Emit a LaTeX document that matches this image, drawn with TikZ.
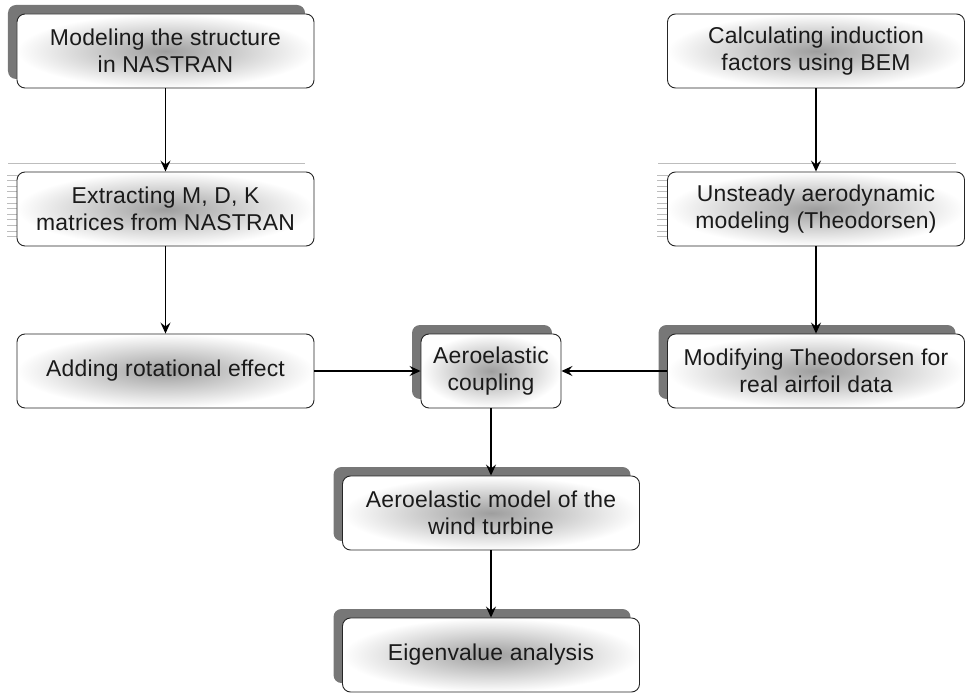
\documentclass[tikz,border=0pt]{standalone}
\usepackage{fontspec}
\setmainfont{Liberation Sans}[LetterSpace=1]
\usetikzlibrary{arrows.meta,shadows}
\definecolor{shadowgray}{HTML}{777777}
\definecolor{stripegray}{HTML}{BDBDBD}
\definecolor{txt}{HTML}{1A1A1A}
\begin{document}
\begin{tikzpicture}[x=1bp,y=-1bp,
  box/.style={draw=black!85, line width=0.9bp, rounded corners=8bp,
    minimum width=297bp, minimum height=74bp, inner sep=0pt,
    inner color=black!38, outer color=white, align=center,
    font=\fontsize{23}{27}\selectfont, text=txt},
  solidshadow/.style={general shadow={fill=shadowgray, draw=none,
    shadow xshift=-9bp, shadow yshift=9bp}},
  stripe/.style={draw=stripegray, line width=0.8bp},
  arr/.style={draw=black, line width=1.4bp,
    -{Stealth[length=11bp,width=10bp,inset=4bp]}}]
\useasboundingbox (0,0) rectangle (966,694);

% striped shadows
\draw[stripe] (8,163) -- (305,163);
\foreach \k in {0,...,11} {\draw[stripe] (7,175+5.6*\k) -- (18,175+5.6*\k);}
\draw[stripe] (658,163) -- (956,163);
\foreach \k in {0,...,11} {\draw[stripe] (657,175+5.6*\k) -- (668,175+5.6*\k);}

% nodes
\node[box, solidshadow] (b1) at (165.5,51) {Modeling the structure\\in NASTRAN};
\node[box] (b2) at (165.5,209) {Extracting M, D, K\\matrices from NASTRAN};
\node[box] (b3) at (165.5,371) {Adding rotational effect};
\node[box, solidshadow, minimum width=140bp] (b4) at (491,371) {Aeroelastic\\coupling};
\node[box, solidshadow] (b5) at (816,371) {Modifying Theodorsen for\\real airfoil data};
\node[box] (b6) at (816,51) {Calculating induction\\factors using BEM};
\node[box] (b7) at (816,209) {Unsteady aerodynamic\\modeling (Theodorsen)};
\node[box, solidshadow] (b8) at (491,513) {Aeroelastic model of the\\wind turbine};
\node[box, solidshadow] (b9) at (491,655) {Eigenvalue analysis};

% connectors
\draw[arr] (b1) -- (b2);
\draw[arr] (b2) -- (b3);
\draw[arr] (b3) -- (b4);
\draw[arr] (b6) -- (b7);
\draw[arr] (b7) -- (b5);
\draw[arr] (b5) -- (b4);
\draw[arr] (b4) -- (b8);
\draw[arr] (b8) -- (b9);
\end{tikzpicture}
\end{document}
